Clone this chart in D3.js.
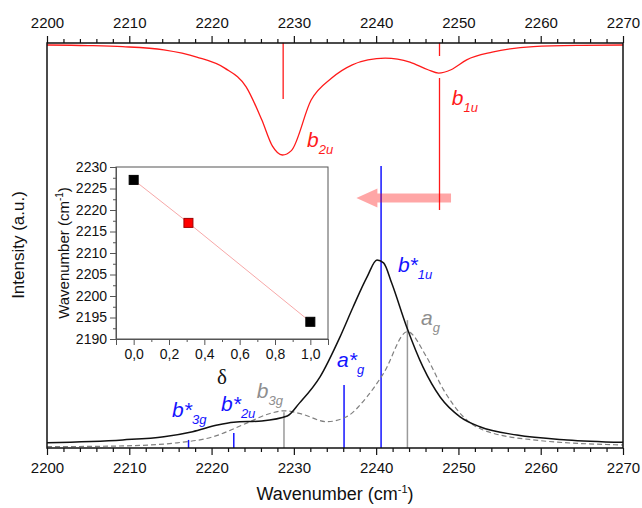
<!DOCTYPE html>
<html>
<head>
<meta charset="utf-8">
<script src="https://cdn.jsdelivr.net/npm/d3@7"></script>
<style>
  body { margin: 0; background: #fff; }
  svg { display: block; font-family: "Liberation Sans", Arial, sans-serif; }
</style>
</head>
<body>
<div id="chart"></div>
<script>
// top (red) spectrum: wavenumber and relative depth of the dips
const topWave = [2200, 2205, 2209.2, 2214.2, 2218.2, 2221.6, 2224.2, 2226.1, 2227.4, 2228.6, 2229.7, 2232.1, 2234.6, 2237.1, 2239, 2241.1, 2244.1, 2246.3, 2247.6, 2249.1, 2251, 2254.1, 2259.1, 2265, 2270]
const topDepth = [0, 0.005, 0.015, 0.045, 0.11, 0.21, 0.38, 0.68, 0.92, 1.0, 0.96, 0.5, 0.3, 0.18, 0.135, 0.12, 0.155, 0.225, 0.255, 0.225, 0.135, 0.065, 0.015, 0.003, 0]

// bottom spectrum (solid black)
const solidWave = [2200, 2209.2, 2214.2, 2217.7, 2220.7, 2222.7, 2226.1, 2229.2, 2230.7, 2233.2, 2235.6, 2237.2, 2238.9, 2240.1, 2240.9, 2241.9, 2243.7, 2245.7, 2247.8, 2250.2, 2252.6, 2257.1, 2263.2, 2270]
const solidInt = [0.028, 0.043, 0.06, 0.087, 0.122, 0.137, 0.144, 0.17, 0.24, 0.38, 0.59, 0.75, 0.91, 1.0, 0.985, 0.876, 0.645, 0.43, 0.27, 0.166, 0.113, 0.069, 0.043, 0.03]

// bottom spectrum (dashed grey)
const dashWave = [2200, 2209.2, 2215.2, 2220.2, 2224.2, 2227.2, 2228.9, 2231, 2234, 2236.4, 2238.9, 2240.9, 2243.8, 2246.1, 2248.2, 2250.6, 2253, 2259.1, 2270]
const dashInt = [0.007, 0.011, 0.025, 0.06, 0.131, 0.185, 0.198, 0.18, 0.14, 0.166, 0.273, 0.397, 0.619, 0.486, 0.309, 0.166, 0.096, 0.043, 0.016]

// computed modes (sticks)
const modeWave = [2217.2, 2222.7, 2228.8, 2236.1, 2240.6, 2243.8]
const modeInt = [0.043, 0.08, 0.19, 0.335, 1.5, 0.68]
const modeSet = ['star', 'star', 'plain', 'star', 'star', 'plain']
const modeName = ['b', 'b', 'b', 'a', 'b', 'a']
const modeSub = ['3g', '2u', '3g', 'g', '1u', 'g']
const modeLabelWave = [2215.2, 2221.15, 2225.5, 2235.25, 2242.65, 2245.45]
const modeLabelInt = [0.165, 0.197, 0.265, 0.431, 0.936, 0.654]

// red modes
const redWave = [2228.7, 2247.7]
const redSub = ['2u', '1u']
const redLabelWave = [2231.6, 2249.2]
const redLabelDepth = [0.927, 0.545]

// inset
const deltaVals = [0, 0.31, 1.0]
const insetWave = [2227, 2217, 2194]

const W = 642
const H = 508
const svg = d3.select('#chart').append('svg').attr('width', W).attr('height', H)

const x = d3.scaleLinear().domain([2200, 2270]).range([47, 623])
const yTop = d3.scaleLinear().domain([0, 1]).range([45, 155])
const yBot = d3.scaleLinear().domain([0, 1]).range([448, 260])

const RED = '#ff1a1a'
const BLUE = '#1414ff'
const GREY = '#9a9a9a'

// sticks, bottom
svg.append('g').selectAll('line').data(modeWave).enter().append('line')
  .attr('x1', d => x(d)).attr('x2', d => x(d))
  .attr('y1', yBot(0)).attr('y2', (d, i) => yBot(modeInt[i]))
  .attr('stroke', (d, i) => modeSet[i] === 'star' ? BLUE : GREY)
  .attr('stroke-width', 1.5)

// red sticks
svg.append('line').attr('x1', x(redWave[0])).attr('x2', x(redWave[0]))
  .attr('y1', yTop(-0.02)).attr('y2', yTop(0.49)).attr('stroke', RED).attr('stroke-width', 1.3)
svg.append('line').attr('x1', x(redWave[1])).attr('x2', x(redWave[1]))
  .attr('y1', yTop(-0.02)).attr('y2', yTop(0.1)).attr('stroke', RED).attr('stroke-width', 1.3)
svg.append('line').attr('x1', x(redWave[1])).attr('x2', x(redWave[1]))
  .attr('y1', yTop(0.3)).attr('y2', yTop(1.5)).attr('stroke', RED).attr('stroke-width', 1.3)

// curves
const line = (ys) => d3.line().x(d => x(d[0])).y(d => ys(d[1])).curve(d3.curveMonotoneX)
svg.append('path').datum(topWave.map((w, i) => [w, topDepth[i]]))
  .attr('d', line(yTop)).attr('fill', 'none').attr('stroke', RED).attr('stroke-width', 1.3)
svg.append('path').datum(dashWave.map((w, i) => [w, dashInt[i]]))
  .attr('d', line(yBot)).attr('fill', 'none').attr('stroke', '#808080')
  .attr('stroke-width', 1.2).attr('stroke-dasharray', '5,3')
svg.append('path').datum(solidWave.map((w, i) => [w, solidInt[i]]))
  .attr('d', line(yBot)).attr('fill', 'none').attr('stroke', '#111').attr('stroke-width', 1.5)

// shift arrow
const ax0 = x(2249.1)
const ax1 = x(2237.6)
const ay = yBot(1.33)
const head = 21
svg.append('path')
  .attr('d', `M${ax0},${ay - 4.5}L${ax1 + head},${ay - 4.5}L${ax1 + head},${ay - 9.5}L${ax1},${ay}L${ax1 + head},${ay + 9.5}L${ax1 + head},${ay + 4.5}L${ax0},${ay + 4.5}Z`)
  .attr('fill', '#ff0000').attr('fill-opacity', 0.35)

// labels
function label (g, px, py, name, star, sub, color) {
  const t = g.append('text').attr('x', px).attr('y', py).attr('fill', color)
    .attr('font-size', 21).attr('font-style', 'italic')
  t.append('tspan').text(name + (star ? '*' : ''))
  t.append('tspan').attr('dy', 7).attr('font-size', 13).text(sub)
}
const lab = svg.append('g')
modeWave.forEach((w, i) => {
  const star = modeSet[i] === 'star'
  label(lab, x(modeLabelWave[i]), yBot(modeLabelInt[i]), modeName[i], star, modeSub[i], star ? BLUE : '#8e8e8e')
})
redWave.forEach((w, i) => {
  label(lab, x(redLabelWave[i]), yTop(redLabelDepth[i]), 'b', false, redSub[i], RED)
})

// frame and axes
svg.append('rect').attr('x', 47).attr('y', 43).attr('width', 576).attr('height', 405)
  .attr('fill', 'none').attr('stroke', '#111').attr('stroke-width', 1.5)

const major = d3.range(2200, 2271, 10)
const minor = d3.range(2200, 2271, 2).filter(v => v % 10 !== 0)
function mainAxis (gen, yPos, pad) {
  const gMinor = svg.append('g').attr('transform', `translate(0,${yPos})`)
    .call(gen(x).tickValues(minor).tickSize(4).tickFormat(''))
  const gMajor = svg.append('g').attr('transform', `translate(0,${yPos})`)
    .call(gen(x).tickValues(major).tickSize(7).tickPadding(pad).tickFormat(d3.format('d')))
  for (const g of [gMinor, gMajor]) {
    g.selectAll('.domain').remove()
    g.selectAll('line').attr('stroke', '#111').attr('stroke-width', 1.2)
    g.selectAll('text').attr('font-size', 15).attr('fill', '#111')
      .attr('font-family', '"Liberation Sans", Arial, sans-serif')
  }
}
mainAxis(d3.axisBottom, 448, 7)
mainAxis(d3.axisTop, 43, 8)

const xt = svg.append('text').attr('x', 335).attr('y', 500).attr('text-anchor', 'middle')
  .attr('font-size', 18).attr('fill', '#111')
xt.append('tspan').text('Wavenumber (cm')
xt.append('tspan').attr('dy', -7).attr('font-size', 11).text('-1')
xt.append('tspan').attr('dy', 7).text(')')

svg.append('text').attr('transform', 'translate(24,245) rotate(-90)')
  .attr('text-anchor', 'middle').attr('font-size', 17).attr('fill', '#111')
  .text('Intensity (a.u.)')

// inset
const ix = d3.scaleLinear().domain([-0.1, 1.1]).range([116, 328])
const iy = d3.scaleLinear().domain([2190, 2230]).range([339, 167])
const inset = svg.append('g')
inset.append('rect').attr('x', 116).attr('y', 167).attr('width', 212).attr('height', 172)
  .attr('fill', '#fff').attr('stroke', '#555').attr('stroke-width', 1)

inset.append('g').attr('transform', 'translate(116,0)')
  .call(d3.axisLeft(iy).tickValues(d3.range(2192.5, 2230, 5)).tickSize(3).tickFormat(''))
inset.append('g').attr('transform', 'translate(116,0)')
  .call(d3.axisLeft(iy).tickValues(d3.range(2190, 2231, 5)).tickSize(6).tickPadding(3).tickFormat(d3.format('d')))
inset.append('g').attr('transform', 'translate(0,339)')
  .call(d3.axisBottom(ix).tickValues([-0.1, 0.1, 0.3, 0.5, 0.7, 0.9, 1.1]).tickSize(3).tickFormat(''))
inset.append('g').attr('transform', 'translate(0,339)')
  .call(d3.axisBottom(ix).tickValues([0, 0.2, 0.4, 0.6, 0.8, 1.0]).tickSize(6).tickPadding(4)
    .tickFormat(d => d3.format('.1f')(d).replace('.', ',')))
inset.selectAll('.domain').attr('stroke', '#555')
inset.selectAll('.tick line').attr('stroke', '#555')
inset.selectAll('text').attr('font-size', 14).attr('fill', '#111')
  .attr('font-family', '"Liberation Sans", Arial, sans-serif')

inset.append('path').datum(deltaVals.map((d, i) => [d, insetWave[i]]))
  .attr('d', d3.line().x(d => ix(d[0])).y(d => iy(d[1])))
  .attr('fill', 'none').attr('stroke', '#f7a8a8').attr('stroke-width', 1)
inset.selectAll('rect.pt').data(deltaVals).enter().append('rect')
  .attr('class', 'pt')
  .attr('x', d => ix(d) - 4.5).attr('y', (d, i) => iy(insetWave[i]) - 4.5)
  .attr('width', 9).attr('height', 9)
  .attr('fill', (d, i) => i === 1 ? '#ff0000' : '#000')
  .attr('stroke', (d, i) => i === 1 ? '#a00000' : '#000').attr('stroke-width', 1)

inset.append('text').attr('x', 222).attr('y', 384).attr('text-anchor', 'middle')
  .attr('font-family', '"Liberation Serif", "DejaVu Serif", serif').attr('font-size', 21).attr('fill', '#111')
  .text('δ')
const it = inset.append('text').attr('transform', 'translate(69,253) rotate(-90)')
  .attr('text-anchor', 'middle').attr('font-size', 15).attr('fill', '#111')
it.append('tspan').text('Wavenumber (cm')
it.append('tspan').attr('dy', -6).attr('font-size', 10).text('-1')
it.append('tspan').attr('dy', 6).text(')')
</script>
</body>
</html>
